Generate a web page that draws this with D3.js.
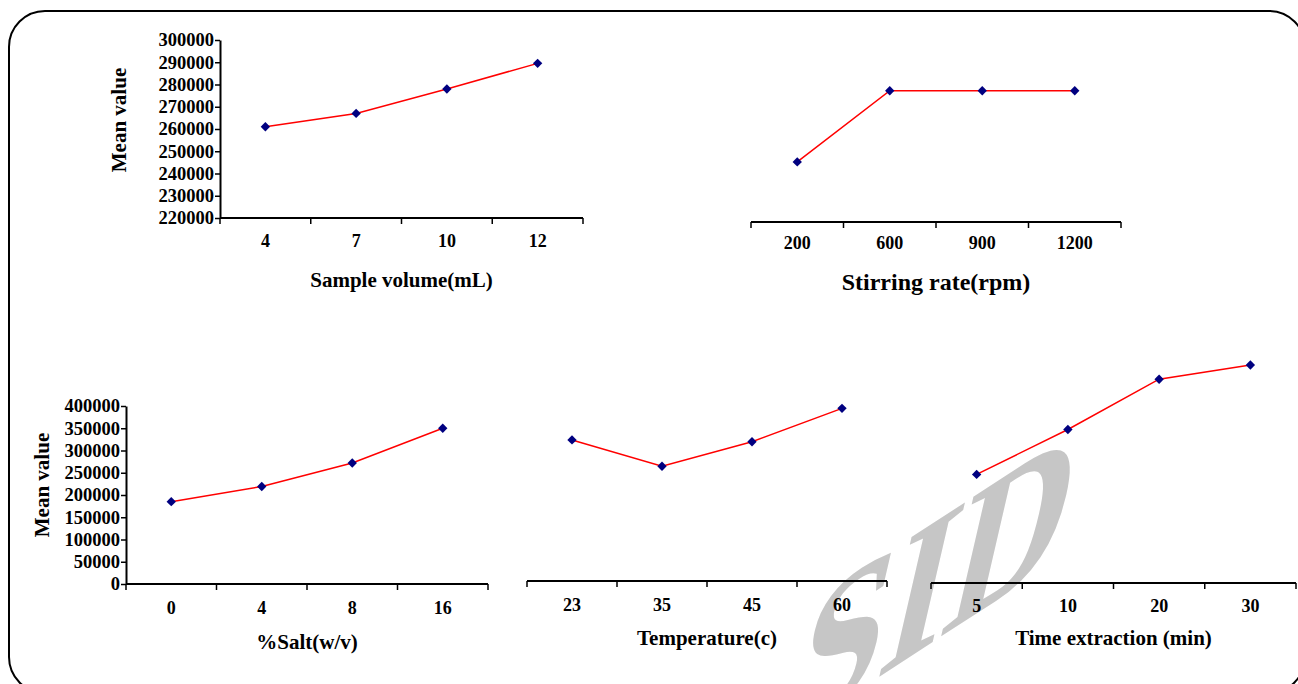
<!DOCTYPE html>
<html>
<head>
<meta charset="utf-8">
<script src="https://cdn.jsdelivr.net/npm/d3@7"></script>
<style>
    body { margin: 0; background: #fff; }
    text { font-family: "Liberation Serif", "Times New Roman", serif; font-weight: bold; fill: #000; }
</style>
</head>
<body>
<script>
// values
const sampleVolume = ["4", "7", "10", "12"];
const sampleVolumeMean = [261000, 267000, 278000, 289500];

const stirringRate = ["200", "600", "900", "1200"];
const stirringRateMean = [247000, 279000, 279000, 279000];

const salt = ["0", "4", "8", "16"];
const saltMean = [185000, 219000, 272000, 350000];

const temperature = ["23", "35", "45", "60"];
const temperatureMean = [317000, 258000, 313000, 388000];

const timeExtraction = ["5", "10", "20", "30"];
const timeExtractionMean = [244000, 345000, 458000, 490000];

const topTicks = [220000, 230000, 240000, 250000, 260000, 270000, 280000, 290000, 300000];
const bottomTicks = [0, 50000, 100000, 150000, 200000, 250000, 300000, 350000, 400000];

const width = 1298,
    height = 684;

const svg = d3
    .select("body")
    .append("svg")
    .attr("width", width)
    .attr("height", height);

// watermark, drawn underneath everything
svg.append("text")
    .attr("transform", "translate(936,580) rotate(-33) skewX(-46) scale(1.3,1)")
    .attr("text-anchor", "middle")
    .attr("dy", "0.33em")
    .style("font-size", "152px")
    .style("fill", "#c6c6c6")
    .text("SID");

// rounded frame
svg.append("rect")
    .attr("x", 9)
    .attr("y", 11)
    .attr("width", 1296)
    .attr("height", 682)
    .attr("rx", 36)
    .attr("fill", "none")
    .attr("stroke", "#000")
    .attr("stroke-width", 2);

function drawPanel(p) {
    const x = d3.scaleBand().domain(p.cats).range([p.x0, p.x1]);
    const y = d3.scaleLinear().domain(p.yDomain).range([p.y0, p.y1]);
    const g = svg.append("g");

    // x axis line with ticks at band edges
    g.append("line")
        .attr("x1", p.x0)
        .attr("x2", p.x1)
        .attr("y1", p.y0)
        .attr("y2", p.y0)
        .attr("stroke", "#000")
        .attr("stroke-width", 2);

    const edges = p.cats.map(d => x(d)).concat([p.x1]);
    g.selectAll(".edge")
        .data(edges)
        .enter()
        .append("line")
        .attr("x1", d => d)
        .attr("x2", d => d)
        .attr("y1", p.y0)
        .attr("y2", p.y0 + 6)
        .attr("stroke", "#000")
        .attr("stroke-width", 1.5);

    const xAxis = g
        .append("g")
        .attr("transform", `translate(0,${p.y0})`)
        .call(d3.axisBottom(x).tickSize(0).tickPadding(p.labelPad));
    xAxis.select(".domain").remove();
    xAxis.selectAll("text")
        .style("font-size", "18px")
        .style("font-family", "'Liberation Serif', serif")
        .attr("fill", "#000");

    if (p.yTicks) {
        const yAxis = g
            .append("g")
            .attr("transform", `translate(${p.x0},0)`)
            .call(
                d3.axisLeft(y)
                    .tickValues(p.yTicks)
                    .tickFormat(d3.format("d"))
                    .tickSize(5)
                    .tickPadding(1)
                    .tickSizeOuter(0)
            );
        yAxis.select(".domain").attr("stroke-width", 2);
        yAxis.selectAll(".tick line").attr("stroke-width", 1.5);
        yAxis.selectAll("text")
            .style("font-size", "18.5px")
            .style("font-family", "'Liberation Serif', serif")
            .attr("fill", "#000");

        g.append("text")
            .attr("transform", `translate(${p.yLabelX},${p.yLabelY}) rotate(-90)`)
            .attr("text-anchor", "middle")
            .attr("dy", "0.35em")
            .style("font-size", "21px")
            .text("Mean value");
    }

    const line = d3
        .line()
        .x((d, i) => x(p.cats[i]) + x.bandwidth() / 2)
        .y(d => y(d));

    g.append("path")
        .datum(p.vals)
        .attr("d", line)
        .attr("fill", "none")
        .attr("stroke", "#ff0000")
        .attr("stroke-width", 1.5);

    g.selectAll(".pt")
        .data(p.vals)
        .enter()
        .append("path")
        .attr("d", d3.symbol(d3.symbolSquare, 44))
        .attr("transform", (d, i) =>
            `translate(${x(p.cats[i]) + x.bandwidth() / 2},${y(d)}) rotate(45)`)
        .attr("fill", "#000080");

    g.append("text")
        .attr("x", (p.x0 + p.x1) / 2)
        .attr("y", p.titleY)
        .attr("text-anchor", "middle")
        .attr("dy", "0.35em")
        .style("font-size", p.titleSize + "px")
        .text(p.title);
}

drawPanel({
    cats: sampleVolume, vals: sampleVolumeMean,
    x0: 220, x1: 583, y0: 218, y1: 40, yDomain: [220000, 300000],
    yTicks: topTicks, yLabelX: 119, yLabelY: 120,
    labelPad: 16, title: "Sample volume(mL)", titleY: 280, titleSize: 21
});

drawPanel({
    cats: stirringRate, vals: stirringRateMean,
    x0: 751, x1: 1121, y0: 222, y1: 44, yDomain: [220000, 300000],
    yTicks: null,
    labelPad: 14, title: "Stirring rate(rpm)", titleY: 282, titleSize: 24
});

drawPanel({
    cats: salt, vals: saltMean,
    x0: 126, x1: 488, y0: 584, y1: 406, yDomain: [0, 400000],
    yTicks: bottomTicks, yLabelX: 42, yLabelY: 485,
    labelPad: 17, title: "%Salt(w/v)", titleY: 642, titleSize: 21
});

drawPanel({
    cats: temperature, vals: temperatureMean,
    x0: 527, x1: 887, y0: 581, y1: 403, yDomain: [0, 400000],
    yTicks: null,
    labelPad: 17, title: "Temperature(c)", titleY: 638, titleSize: 21
});

drawPanel({
    cats: timeExtraction, vals: timeExtractionMean,
    x0: 931, x1: 1296, y0: 583, y1: 405, yDomain: [0, 400000],
    yTicks: null,
    labelPad: 16, title: "Time extraction (min)", titleY: 638, titleSize: 21
});
</script>
</body>
</html>
